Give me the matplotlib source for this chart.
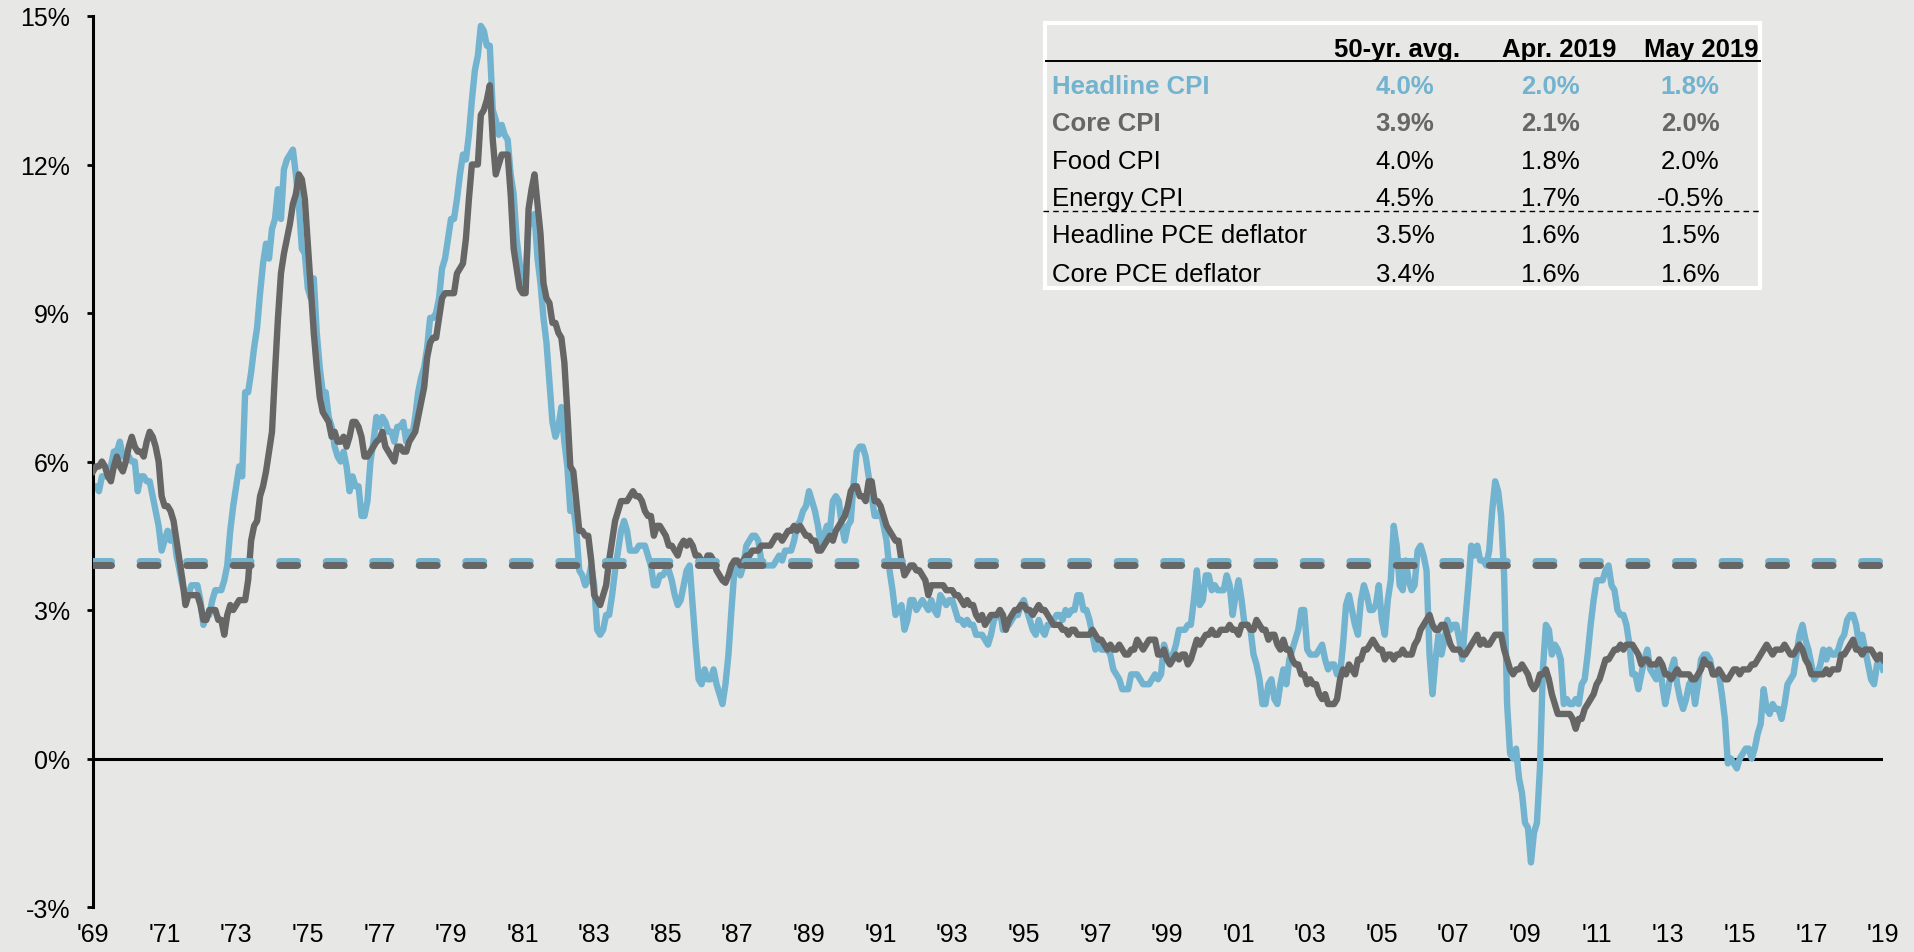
import numpy as np
import matplotlib
matplotlib.use("Agg")
import matplotlib.pyplot as plt
from matplotlib.lines import Line2D
from matplotlib.patches import Rectangle

plt.rcParams['font.family'] = ['Liberation Sans', 'DejaVu Sans']

# monthly y/y %, May 1969 -> May 2019 (one row per calendar year)
headline_cpi = [
    5.5, 5.5, 5.4, 5.7, 5.7, 5.7, 5.9, 6.2,                              # 1969 (May-Dec)
    6.2, 6.4, 6.1, 6.1, 6.1, 6.0, 6.0, 5.4, 5.7, 5.7, 5.6, 5.6,          # 1970
    5.3, 5.0, 4.7, 4.2, 4.4, 4.6, 4.4, 4.6, 4.1, 3.8, 3.5, 3.3,          # 1971
    3.3, 3.5, 3.5, 3.5, 3.2, 2.7, 2.9, 2.9, 3.2, 3.4, 3.4, 3.4,          # 1972
    3.6, 3.9, 4.6, 5.1, 5.5, 5.9, 5.7, 7.4, 7.4, 7.8, 8.3, 8.7,          # 1973
    9.4, 10.0, 10.4, 10.1, 10.7, 10.9, 11.5, 10.9, 11.9, 12.1, 12.2, 12.3,  # 1974
    11.8, 11.2, 10.3, 10.2, 9.5, 9.3, 9.7, 8.6, 7.9, 7.4, 7.4, 6.9,     # 1975
    6.7, 6.3, 6.1, 6.0, 6.2, 5.9, 5.4, 5.7, 5.5, 5.5, 4.9, 4.9,          # 1976
    5.2, 6.0, 6.4, 6.9, 6.7, 6.9, 6.8, 6.6, 6.6, 6.4, 6.7, 6.7,          # 1977
    6.8, 6.4, 6.6, 6.5, 6.9, 7.4, 7.7, 7.9, 8.3, 8.9, 8.9, 9.0,          # 1978
    9.3, 9.9, 10.1, 10.5, 10.9, 10.9, 11.3, 11.8, 12.2, 12.1, 12.6, 13.3,  # 1979
    13.9, 14.2, 14.8, 14.7, 14.4, 14.4, 13.1, 12.9, 12.6, 12.8, 12.6, 12.5,  # 1980
    11.8, 11.4, 10.5, 10.0, 9.8, 9.6, 10.8, 10.8, 11.0, 10.1, 9.6, 8.9,  # 1981
    8.4, 7.6, 6.8, 6.5, 6.7, 7.1, 6.4, 5.9, 5.0, 5.1, 4.6, 3.8,          # 1982
    3.7, 3.5, 3.6, 3.9, 3.5, 2.6, 2.5, 2.6, 2.9, 2.9, 3.3, 3.8,          # 1983
    4.2, 4.6, 4.8, 4.6, 4.2, 4.2, 4.2, 4.3, 4.3, 4.3, 4.1, 3.9,          # 1984
    3.5, 3.5, 3.7, 3.7, 3.8, 3.8, 3.6, 3.3, 3.1, 3.2, 3.5, 3.8,          # 1985
    3.9, 3.1, 2.3, 1.6, 1.5, 1.8, 1.6, 1.6, 1.8, 1.5, 1.3, 1.1,          # 1986
    1.5, 2.1, 3.0, 3.8, 3.9, 3.7, 3.9, 4.3, 4.4, 4.5, 4.5, 4.4,          # 1987
    4.0, 3.9, 3.9, 3.9, 3.9, 4.0, 4.1, 4.0, 4.2, 4.2, 4.2, 4.4,          # 1988
    4.7, 4.8, 5.0, 5.1, 5.4, 5.2, 5.0, 4.7, 4.3, 4.5, 4.7, 4.6,          # 1989
    5.2, 5.3, 5.2, 4.7, 4.4, 4.7, 4.8, 5.6, 6.2, 6.3, 6.3, 6.1,          # 1990
    5.7, 5.3, 4.9, 4.9, 5.0, 4.7, 4.4, 3.8, 3.4, 2.9, 3.0, 3.1,          # 1991
    2.6, 2.8, 3.2, 3.2, 3.0, 3.1, 3.2, 3.1, 3.0, 3.2, 3.0, 2.9,          # 1992
    3.3, 3.2, 3.1, 3.2, 3.2, 3.0, 2.8, 2.8, 2.7, 2.8, 2.7, 2.7,          # 1993
    2.5, 2.5, 2.5, 2.4, 2.3, 2.5, 2.8, 2.9, 3.0, 2.6, 2.7, 2.7,          # 1994
    2.8, 2.9, 2.9, 3.1, 3.2, 3.0, 2.8, 2.6, 2.5, 2.8, 2.6, 2.5,          # 1995
    2.7, 2.7, 2.8, 2.9, 2.9, 2.8, 3.0, 2.9, 3.0, 3.0, 3.3, 3.3,          # 1996
    3.0, 3.0, 2.8, 2.5, 2.2, 2.3, 2.2, 2.2, 2.2, 2.1, 1.8, 1.7,          # 1997
    1.6, 1.4, 1.4, 1.4, 1.7, 1.7, 1.7, 1.6, 1.5, 1.5, 1.5, 1.6,          # 1998
    1.7, 1.6, 1.7, 2.3, 2.1, 2.0, 2.1, 2.3, 2.6, 2.6, 2.6, 2.7,          # 1999
    2.7, 3.2, 3.8, 3.1, 3.2, 3.7, 3.7, 3.4, 3.5, 3.4, 3.4, 3.4,          # 2000
    3.7, 3.5, 2.9, 3.3, 3.6, 3.2, 2.7, 2.7, 2.6, 2.1, 1.9, 1.6,          # 2001
    1.1, 1.1, 1.5, 1.6, 1.2, 1.1, 1.5, 1.8, 1.5, 2.0, 2.2, 2.4,          # 2002
    2.6, 3.0, 3.0, 2.2, 2.1, 2.1, 2.1, 2.2, 2.3, 2.0, 1.8, 1.9,          # 2003
    1.9, 1.7, 1.7, 2.3, 3.1, 3.3, 3.0, 2.7, 2.5, 3.2, 3.5, 3.3,          # 2004
    3.0, 3.0, 3.1, 3.5, 2.8, 2.5, 3.2, 3.6, 4.7, 4.3, 3.5, 3.4,          # 2005
    4.0, 3.6, 3.4, 3.5, 4.2, 4.3, 4.1, 3.8, 2.1, 1.3, 2.0, 2.5,          # 2006
    2.1, 2.4, 2.8, 2.6, 2.7, 2.7, 2.4, 2.0, 2.8, 3.5, 4.3, 4.1,          # 2007
    4.3, 4.0, 4.0, 3.9, 4.2, 5.0, 5.6, 5.4, 4.9, 3.7, 1.1, 0.1,          # 2008
    0.0, 0.2, -0.4, -0.7, -1.3, -1.4, -2.1, -1.5, -1.3, -0.2, 1.8, 2.7,  # 2009
    2.6, 2.1, 2.3, 2.2, 2.0, 1.1, 1.2, 1.1, 1.1, 1.2, 1.1, 1.5,          # 2010
    1.6, 2.1, 2.7, 3.2, 3.6, 3.6, 3.6, 3.8, 3.9, 3.5, 3.4, 3.0,          # 2011
    2.9, 2.9, 2.7, 2.3, 1.7, 1.7, 1.4, 1.7, 2.0, 2.2, 1.8, 1.7,          # 2012
    1.6, 2.0, 1.5, 1.1, 1.4, 1.8, 2.0, 1.5, 1.2, 1.0, 1.2, 1.5,          # 2013
    1.6, 1.1, 1.5, 2.0, 2.1, 2.1, 2.0, 1.7, 1.7, 1.7, 1.3, 0.8,          # 2014
    -0.1, 0.0, -0.1, -0.2, 0.0, 0.1, 0.2, 0.2, 0.0, 0.2, 0.5, 0.7,      # 2015
    1.4, 1.0, 0.9, 1.1, 1.0, 1.0, 0.8, 1.1, 1.5, 1.6, 1.7, 2.1,          # 2016
    2.5, 2.7, 2.4, 2.2, 1.9, 1.6, 1.7, 1.9, 2.2, 2.0, 2.2, 2.1,          # 2017
    2.1, 2.2, 2.4, 2.5, 2.8, 2.9, 2.9, 2.7, 2.3, 2.5, 2.2, 1.9,          # 2018
    1.6, 1.5, 1.9, 2.0, 1.8,                                             # 2019 (Jan-May)
]

core_cpi = [
    5.8, 5.9, 5.9, 6.0, 5.9, 5.7, 5.6, 5.9,                              # 1969 (May-Dec)
    6.1, 5.9, 5.8, 6.0, 6.3, 6.5, 6.3, 6.2, 6.2, 6.1, 6.4, 6.6,          # 1970
    6.5, 6.3, 6.0, 5.3, 5.1, 5.1, 5.0, 4.8, 4.4, 4.0, 3.6, 3.1,          # 1971
    3.3, 3.3, 3.3, 3.3, 3.1, 2.8, 2.8, 3.0, 3.0, 3.0, 2.8, 2.8,          # 1972
    2.5, 2.9, 3.1, 3.0, 3.1, 3.2, 3.2, 3.2, 3.6, 4.4, 4.7, 4.8,          # 1973
    5.3, 5.5, 5.8, 6.2, 6.6, 7.8, 8.9, 9.8, 10.2, 10.5, 10.8, 11.2,     # 1974
    11.4, 11.8, 11.7, 11.3, 10.4, 9.5, 8.6, 7.9, 7.3, 7.0, 6.9, 6.8,    # 1975
    6.5, 6.6, 6.4, 6.4, 6.5, 6.3, 6.5, 6.8, 6.8, 6.7, 6.5, 6.1,          # 1976
    6.1, 6.2, 6.3, 6.4, 6.45, 6.6, 6.3, 6.2, 6.1, 6.0, 6.3, 6.3,        # 1977
    6.2, 6.2, 6.4, 6.5, 6.6, 6.9, 7.2, 7.5, 8.1, 8.4, 8.5, 8.5,          # 1978
    8.9, 9.3, 9.4, 9.4, 9.4, 9.4, 9.8, 9.9, 10.0, 10.5, 11.3, 12.0,     # 1979
    12.0, 12.0, 13.0, 13.1, 13.3, 13.6, 12.5, 11.8, 12.0, 12.2, 12.2, 12.2,  # 1980
    11.4, 10.3, 9.9, 9.5, 9.4, 9.4, 11.1, 11.5, 11.8, 11.2, 10.6, 9.6,  # 1981
    9.3, 9.2, 8.8, 8.8, 8.6, 8.5, 8.0, 7.0, 5.9, 5.8, 5.2, 4.6,          # 1982
    4.6, 4.5, 4.5, 4.0, 3.3, 3.2, 3.1, 3.3, 3.5, 4.0, 4.4, 4.8,          # 1983
    5.0, 5.2, 5.2, 5.2, 5.3, 5.4, 5.3, 5.3, 5.2, 5.0, 4.9, 4.9,          # 1984
    4.5, 4.7, 4.7, 4.6, 4.5, 4.3, 4.3, 4.2, 4.1, 4.3, 4.4, 4.3,          # 1985
    4.4, 4.3, 4.1, 4.1, 4.0, 3.9, 4.1, 4.1, 4.0, 3.8, 3.7, 3.6,          # 1986
    3.55, 3.7, 3.9, 4.0, 4.0, 3.9, 4.0, 4.1, 4.1, 4.2, 4.2, 4.2,        # 1987
    4.3, 4.3, 4.3, 4.3, 4.4, 4.5, 4.5, 4.4, 4.5, 4.6, 4.6, 4.7,          # 1988
    4.6, 4.7, 4.6, 4.5, 4.5, 4.4, 4.4, 4.2, 4.2, 4.3, 4.4, 4.5,          # 1989
    4.4, 4.6, 4.7, 4.8, 4.9, 5.1, 5.4, 5.5, 5.5, 5.3, 5.3, 5.2,          # 1990
    5.6, 5.6, 5.2, 5.2, 5.1, 4.9, 4.7, 4.6, 4.5, 4.4, 4.4, 4.0,          # 1991
    3.7, 3.8, 3.9, 3.9, 3.8, 3.8, 3.7, 3.6, 3.3, 3.5, 3.5, 3.5,          # 1992
    3.5, 3.5, 3.4, 3.4, 3.4, 3.3, 3.3, 3.2, 3.1, 3.2, 3.1, 3.1,          # 1993
    2.9, 2.8, 2.9, 2.7, 2.8, 2.9, 2.9, 2.9, 3.0, 2.9, 2.6, 2.8,          # 1994
    2.9, 3.0, 3.0, 3.1, 3.1, 3.0, 3.0, 2.9, 3.0, 3.1, 3.0, 3.0,          # 1995
    2.9, 2.8, 2.7, 2.7, 2.7, 2.6, 2.6, 2.5, 2.6, 2.6, 2.5, 2.5,          # 1996
    2.5, 2.5, 2.5, 2.6, 2.5, 2.4, 2.4, 2.3, 2.2, 2.3, 2.2, 2.2,          # 1997
    2.3, 2.2, 2.1, 2.1, 2.2, 2.2, 2.4, 2.3, 2.2, 2.3, 2.4, 2.4,          # 1998
    2.4, 2.1, 2.1, 2.2, 2.0, 1.9, 2.0, 2.1, 2.0, 2.1, 2.1, 1.9,          # 1999
    2.0, 2.2, 2.4, 2.3, 2.4, 2.5, 2.5, 2.6, 2.5, 2.5, 2.6, 2.6,          # 2000
    2.6, 2.7, 2.6, 2.6, 2.5, 2.7, 2.7, 2.7, 2.6, 2.6, 2.8, 2.7,          # 2001
    2.6, 2.6, 2.4, 2.5, 2.5, 2.3, 2.2, 2.4, 2.2, 2.2, 2.0, 1.9,          # 2002
    1.9, 1.7, 1.7, 1.5, 1.6, 1.5, 1.5, 1.3, 1.2, 1.3, 1.1, 1.1,          # 2003
    1.1, 1.2, 1.6, 1.8, 1.7, 1.9, 1.8, 1.7, 2.0, 2.0, 2.2, 2.2,          # 2004
    2.3, 2.4, 2.3, 2.2, 2.2, 2.0, 2.1, 2.1, 2.0, 2.1, 2.1, 2.2,          # 2005
    2.1, 2.1, 2.1, 2.3, 2.4, 2.6, 2.7, 2.8, 2.9, 2.7, 2.6, 2.6,          # 2006
    2.7, 2.7, 2.5, 2.3, 2.2, 2.2, 2.2, 2.1, 2.1, 2.2, 2.3, 2.4,          # 2007
    2.5, 2.3, 2.4, 2.3, 2.3, 2.4, 2.5, 2.5, 2.5, 2.2, 2.0, 1.8,          # 2008
    1.7, 1.8, 1.8, 1.9, 1.8, 1.7, 1.5, 1.4, 1.5, 1.7, 1.7, 1.8,          # 2009
    1.6, 1.3, 1.1, 0.9, 0.9, 0.9, 0.9, 0.9, 0.8, 0.6, 0.8, 0.8,          # 2010
    1.0, 1.1, 1.2, 1.3, 1.5, 1.6, 1.8, 2.0, 2.0, 2.1, 2.2, 2.2,          # 2011
    2.3, 2.2, 2.3, 2.3, 2.3, 2.2, 2.1, 1.9, 2.0, 2.0, 1.9, 1.9,          # 2012
    1.9, 2.0, 1.9, 1.7, 1.7, 1.6, 1.7, 1.8, 1.7, 1.7, 1.7, 1.7,          # 2013
    1.6, 1.6, 1.7, 1.8, 2.0, 1.9, 1.9, 1.7, 1.7, 1.8, 1.7, 1.6,          # 2014
    1.6, 1.7, 1.8, 1.8, 1.7, 1.8, 1.8, 1.8, 1.9, 1.9, 2.0, 2.1,          # 2015
    2.2, 2.3, 2.2, 2.1, 2.2, 2.2, 2.2, 2.3, 2.2, 2.1, 2.1, 2.2,          # 2016
    2.3, 2.2, 2.0, 1.9, 1.7, 1.7, 1.7, 1.7, 1.7, 1.8, 1.7, 1.8,          # 2017
    1.8, 1.8, 2.1, 2.1, 2.2, 2.3, 2.4, 2.2, 2.2, 2.1, 2.2, 2.2,          # 2018
    2.2, 2.1, 2.0, 2.1, 2.0,                                             # 2019 (Jan-May)
]

headline_avg = 4.0
core_avg = 3.9

x_labels = ["'69", "'71", "'73", "'75", "'77", "'79", "'81", "'83", "'85", "'87",
            "'89", "'91", "'93", "'95", "'97", "'99", "'01", "'03", "'05", "'07",
            "'09", "'11", "'13", "'15", "'17", "'19"]
y_ticks = [-3, 0, 3, 6, 9, 12, 15]

# summary table
table_cols = ['50-yr. avg.', 'Apr. 2019', 'May 2019']
table_rows = ['Headline CPI', 'Core CPI', 'Food CPI', 'Energy CPI',
              'Headline PCE deflator', 'Core PCE deflator']
avg_50yr = ['4.0%', '3.9%', '4.0%', '4.5%', '3.5%', '3.4%']
apr_2019 = ['2.0%', '2.1%', '1.8%', '1.7%', '1.6%', '1.6%']
may_2019 = ['1.8%', '2.0%', '2.0%', '-0.5%', '1.5%', '1.6%']

BG = '#e7e7e5'
BLUE = '#72b3cf'
GRAY = '#666666'
W, H = 1914, 953

fig = plt.figure(figsize=(W / 100, H / 100), dpi=100)
fig.patch.set_facecolor(BG)
ax = fig.add_axes([93 / W, 1 - 908 / H, (1883 - 93) / W, (908 - 17) / H])
ax.set_facecolor(BG)

months = np.arange(len(headline_cpi))

ax.axhline(0, color='black', lw=2.2, zorder=1)
ax.plot(months, headline_cpi, color=BLUE, lw=4.6, solid_joinstyle='round', zorder=2)
ax.plot(months, core_cpi, color=GRAY, lw=4.6, solid_joinstyle='round', zorder=3)
ax.plot([0, months[-1]], [headline_avg] * 2, color=BLUE, lw=5, ls=(0, (2.6, 4.1)),
        dash_capstyle='round', zorder=4)
ax.plot([0, months[-1]], [core_avg] * 2, color=GRAY, lw=5, ls=(0, (2.6, 4.1)),
        dash_capstyle='round', zorder=5)

ax.set_xlim(0, months[-1])
ax.set_ylim(-3, 15)
ax.set_yticks(y_ticks)
ax.set_yticklabels([f'{v}%' for v in y_ticks])
ax.set_xticks(np.linspace(0, months[-1], len(x_labels)))
ax.set_xticklabels(x_labels)
ax.tick_params(axis='y', length=4.5, width=2, direction='out', pad=12, labelsize=18)
ax.tick_params(axis='x', length=0, pad=11, labelsize=18)
for s in ['top', 'right', 'bottom']:
    ax.spines[s].set_visible(False)
ax.spines['left'].set_linewidth(2.2)


def fx(x):
    return x / W


def fy(y):
    return 1 - y / H


# table box
fig.add_artist(Rectangle((fx(1045), fy(289)), (1760 - 1045) / W, (289 - 24) / H,
                         transform=fig.transFigure, facecolor=BG, edgecolor='white',
                         lw=3, zorder=10))
fig.add_artist(Line2D([fx(1046), fx(1760)], [fy(62), fy(62)], transform=fig.transFigure,
                      color='black', lw=1.4, zorder=11))
fig.add_artist(Line2D([fx(1043), fx(1760)], [fy(212), fy(212)], transform=fig.transFigure,
                      color='black', lw=1.0, ls=(0, (4, 3)), zorder=11))

head_x = [1397, 1559, 1701]
val_x = [1405, 1550, 1690]
for cx, name in zip(head_x, table_cols):
    fig.text(fx(cx), fy(57), name, ha='center', va='baseline', fontsize=18.5,
             fontweight='bold', color='black', zorder=12)

row_base = [94, 131, 169, 206, 243, 282]
row_colors = [BLUE, GRAY, 'black', 'black', 'black', 'black']
row_weights = ['bold', 'bold', 'normal', 'normal', 'normal', 'normal']
for i, name in enumerate(table_rows):
    kw = dict(va='baseline', fontsize=18.5, color=row_colors[i],
              fontweight=row_weights[i], zorder=12)
    fig.text(fx(1052), fy(row_base[i]), name, ha='left', **kw)
    for cx, col in zip(val_x, [avg_50yr, apr_2019, may_2019]):
        fig.text(fx(cx), fy(row_base[i]), col[i], ha='center', **kw)

fig.savefig('out.png', dpi=100, facecolor=BG)
